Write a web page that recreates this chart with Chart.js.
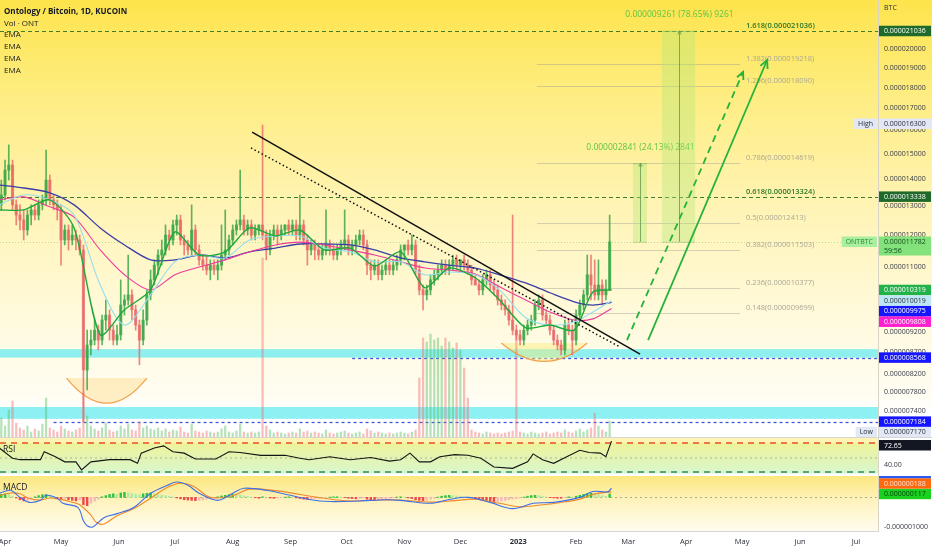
<!DOCTYPE html>
<html>
<head>
<meta charset="utf-8">
<title>Ontology / Bitcoin, 1D, KUCOIN</title>
<script src="https://cdn.jsdelivr.net/npm/chart.js@4.4.1/dist/chart.umd.min.js"></script>
<style>
  html, body { margin: 0; padding: 0; background: #fff; }
  body { width: 932px; height: 550px; position: relative; overflow: hidden; font-family: "Open Sans", "Liberation Sans", sans-serif; }
  canvas { position: absolute; left: 0; }
  #mainChart { top: 0; }
  #rsiChart { top: 438px; }
  #macdChart { top: 476px; }
  .lbl { position: absolute; left: 4px; font-size: 8px; line-height: 12px; color: #131722; white-space: nowrap; }
</style>
</head>
<body>
<canvas id="mainChart" width="932" height="438"></canvas>
<canvas id="rsiChart" width="932" height="38"></canvas>
<canvas id="macdChart" width="932" height="74"></canvas>

<div class="lbl" style="top:5px;font-weight:bold">Ontology / Bitcoin, 1D, KUCOIN</div>
<div class="lbl" style="top:17px">Vol · ONT</div>
<div class="lbl" style="top:28px">EMA</div>
<div class="lbl" style="top:40px">EMA</div>
<div class="lbl" style="top:52px">EMA</div>
<div class="lbl" style="top:64px">EMA</div>
<div class="lbl" style="top:2px;left:884px;font-size:7px;color:#2a2e39">BTC</div>
<div class="lbl" style="top:443px;left:3px;font-size:8.5px">RSI</div>
<div class="lbl" style="top:481px;left:3px;font-size:8.5px">MACD</div>

<script>
// prices are stored in units of 1e-9 BTC, days are counted from 1 Apr 2022
const UNIT = 1e-9;

// x axis
const dayMin = -2.7, dayMax = 467.8;
const monthDays = [0, 30, 61, 91, 122, 153, 183, 214, 244, 275, 306, 334, 365, 395, 426, 456];
const monthLabels = ['Apr', 'May', 'Jun', 'Jul', 'Aug', 'Sep', 'Oct', 'Nov', 'Dec', '2023', 'Feb', 'Mar', 'Apr', 'May', 'Jun', 'Jul'];

// price axis
const priceMin = 6868, priceMax = 22908;
const priceTicks = [20000, 19000, 18000, 17000, 16000, 15000, 14000, 13000, 12000, 11000, 10000, 9600, 9200, 8700, 8200, 7800, 7400];

// candles (one candle every 2 days, first at day -4)
const candleStartDay = -4, candleStepDays = 2;
const opens = [12860,13040,13400,14350,14550,13040,12680,12510,12170,12680,12860,12680,13040,13220,13960,13220,13040,12860,11840,12170,
  11840,12000,11840,11520,8280,8870,8990,9240,8990,9500,9630,9240,8990,9120,9900,10040,10180,9770,9370,8990,
  9500,10180,10610,11050,11360,11520,12000,11840,12340,12510,11840,11680,11520,12170,11520,11210,11050,10900,11050,10900,
  11050,11360,11520,11840,12170,12340,12510,12170,12340,12000,12170,12340,12000,11520,12000,12170,12000,12170,12340,12170,
  12340,12000,12340,11840,11520,11680,11520,11360,11520,11680,11520,11360,11520,11680,11840,11520,11680,11840,12000,11680,
  11050,10900,11050,10760,10900,11050,10900,11050,11210,11520,11680,11520,11680,10900,10320,10180,10320,10610,10760,10900,
  11050,10900,11050,11210,11050,11210,11050,10900,10610,10460,10320,10610,10760,10460,10320,10040,9900,9770,9500,9240,
  9120,8990,9240,9370,9500,9900,10040,9630,9500,9240,8990,8870,8750,9370,9240,8990,9630,9900,10180,10760,
  10460,10180,10460,10180,10320];
const highs = [13400,13960,14750,15380,14750,13220,13040,12860,12860,13040,13040,13220,13400,15160,14160,13400,13220,13040,12340,12340,
  12340,12170,12000,11680,9240,9240,9500,9370,9630,10040,9770,9370,9370,10610,10180,11360,10320,9900,9500,9770,
  10320,10900,11210,11520,11840,12340,12170,12510,12680,12680,12000,11840,13040,12340,11680,11360,11360,11210,11210,11210,
  12340,12860,12000,12340,12510,14350,12680,12510,12510,12340,12340,16240,12170,12170,12340,12340,12340,12340,12510,12510,
  12510,13400,12510,12000,11840,11840,11680,11680,12860,11840,11680,11680,11840,12860,12000,11840,12000,12170,12170,11840,
  11210,11210,11210,11050,11210,11210,11210,11360,11680,11680,11840,12000,11840,11050,10460,10460,10760,10900,11050,11210,
  11210,11210,11360,11360,11210,11360,11210,11050,10760,10610,10760,10900,10900,10610,10460,10180,10040,9900,12680,9370,
  9240,9370,9500,9630,10040,10180,10180,9770,9630,9370,9120,8990,9500,9500,9370,9770,10040,10320,11360,11360,
  11210,11210,10610,10610,12680];
const lows = [12680,12860,13220,13960,12860,12340,12170,11840,12000,12340,12510,12510,12860,13040,13040,12860,12510,11050,11680,11520,
  11680,11520,11360,7170,7840,8630,8870,8750,8870,9240,8990,8870,8870,8990,9630,9900,9500,9240,8400,8870,
  9370,10040,10460,10760,11050,11360,11520,11680,12000,11680,11360,11360,11360,11360,11050,10900,10760,10610,10760,10610,
  10900,11210,11360,11680,12000,12170,12000,12000,11840,11840,12000,11840,11210,11360,11840,11680,11840,12000,12000,12000,
  11840,11840,11680,11050,11360,11210,11210,11210,11360,11360,11210,11210,11360,11520,11360,11360,11520,11680,11520,10760,
  10610,10760,10610,10610,10760,10760,10760,10900,11050,11210,11360,11360,10760,10180,9770,10040,10180,10460,10610,10760,
  10760,10760,10900,10900,10900,10900,10760,10460,10460,10180,10180,10460,10320,10180,9900,9770,9630,9370,9120,8990,
  8870,8870,9120,9240,9370,9770,9500,9370,9120,8870,8750,8630,8630,9120,8630,8870,9500,9770,10040,10040,
  10040,10040,9900,10040,10320];
const closes = [13040,13400,14350,14550,13040,12680,12510,12170,12680,12860,12680,13040,13220,13960,13220,13040,12860,11840,12170,11840,
  12000,11840,11520,8280,8870,8990,9240,8990,9500,9630,9240,8990,9120,9900,10040,10180,9770,9370,8990,9500,
  10180,10610,11050,11360,11520,12000,11840,12340,12510,11840,11680,11520,12170,11520,11210,11050,10900,11050,10900,11050,
  11360,11520,11840,12170,12340,12510,12170,12340,12000,12170,12340,12000,11520,12000,12170,12000,12170,12340,12170,12340,
  12000,12340,11840,11520,11680,11520,11360,11520,11680,11520,11360,11520,11680,11840,11520,11680,11840,12000,11680,11050,
  10900,11050,10760,10900,11050,10900,11050,11210,11520,11680,11520,11680,10900,10320,10180,10320,10610,10760,10900,11050,
  10900,11050,11210,11050,11210,11050,10900,10610,10460,10320,10610,10760,10460,10320,10040,9900,9770,9500,9240,9120,
  8990,9240,9370,9500,9900,10040,9630,9500,9240,8990,8870,8750,9370,9240,8990,9630,9900,10180,10760,10460,
  10180,10460,10180,10320,11782];
const volumes = [8,20,12,28,37,15,10,8,12,6, 9,7,14,40,10,8,6,12,9,7, 6,8,10,45,22,12,9,7,10,15,
  8,6,7,12,9,14,8,7,16,10, 12,9,8,10,7,9,6,8,7,11, 6,5,14,7,6,5,7,6,5,6,
  9,12,6,5,7,14,6,5,6,5, 6,180,12,8,5,6,5,4,5,6, 5,9,6,7,5,6,5,4,8,5,
  4,5,6,7,5,4,5,6,4,9, 7,5,6,5,4,5,4,5,6,5, 4,6,8,60,100,96,104,98,100,92,
  100,96,90,95,88,70,40,8,6,5, 4,6,5,4,5,4,5,6,7,105, 6,5,4,6,5,4,5,6,4,5,
  6,5,8,6,5,7,9,6,8,10, 25,12,8,6,17];

// EMA lines, read at these days
const emaDays = [-3, 10, 24, 37, 51, 64, 78, 91, 104, 118, 131, 145, 158, 171, 185, 198, 212, 225, 238, 252, 265, 279, 292, 305, 315, 325];
const emaGreen = [12860,12860,13220,12240,9120,9770,10320,12100,11360,11460,12240,11970,12170,11520,11580,11020,11460,10380,10960,10670,10040,9300,9370,9240,10260,10319];
const emaCyan = [13040,13400,13220,12680,10460,9370,10180,11150,11360,11270,11840,11970,11970,11580,11460,11150,11150,10760,10840,10760,10320,9560,9370,9450,9710,10019];
const emaPink = [13220,13330,12970,12610,11520,10760,10320,10760,10990,11210,11460,11680,11770,11680,11520,11360,11150,10960,10900,10780,10410,10040,9710,9500,9530,9808];
const emaBlue = [13770,13660,13480,13040,12240,11680,11210,11210,11360,11270,11460,11580,11710,11710,11680,11520,11270,11150,11050,10960,10760,10520,10240,9990,9900,9975];

// fibonacci levels and other drawings
const fibRatios = [0.148, 0.236, 0.382, 0.5, 0.618, 0.786, 1.296, 1.382, 1.618];
const fibPrices = [9699, 10377, 11503, 12413, 13324, 14619, 18090, 19218, 21036];
const keyLevels = [21036, 13338];
const supportZones = [[8568, 8770], [7240, 7480]];
const supportLines = [[8568, 186], [7184, 26]];
const measureBase = 11782;
const measureDeltas = [2841, 9261];
const measurePct = [24.13, 78.65];

// RSI
const rsiDays = [-3,4,8,19,21,27,32,38,41,46,56,67,71,73,80,85,90,96,102,113,120,126,137,150,158,163,174,185,196,206,212,217,222,228,233,241,248,255,262,272,280,283,288,294,301,308,313,319,322,325];
const rsiValues = [63,49,47,47,58,51,44,44,33,44,47,47,42,56,63,66,58,56,48,48,58,57,53,53,49,47,51,47,50,45,47,56,44,44,51,54,53,49,37,35,44,55,47,42,51,60,57,56,51,72.65];
const rsiLevels = [70, 50, 30];

// MACD
const macdDays = [-3,3,8,13,19,22,28,31,39,42,44,47,53,60,69,78,87,92,98,104,114,122,128,140,153,163,174,190,204,212,228,238,248,260,272,283,294,308,315,323,325];
const macdLine = [140,240,0,-170,-100,70,-30,-200,-340,-790,-960,-1000,-690,-550,-340,140,410,520,410,140,-100,140,310,240,70,-70,-140,-120,-80,-100,-200,-70,0,-170,-380,-200,-170,0,200,190,310];
const signalDays = [-3,3,8,13,19,24,29,35,40,46,49,53,60,69,78,87,94,101,110,122,131,146,158,170,185,201,212,228,241,252,265,276,287,297,308,316,325];
const signalLine = [60,150,120,-40,-90,-20,-60,-150,-250,-600,-850,-900,-620,-380,-30,340,480,380,0,60,280,220,100,-20,-120,-90,-90,-160,-110,-60,-200,-320,-260,-180,-60,120,188];
const macdHist = [60,100,120,100,40,-20, -80,-120,-100,-60, 20,60,90,100,70,30, -30,-60,-50,-80, -100,-120,-90,
  -250,-280,-200,-120,-60, 20,60,100,120,110, 150,170,160,130,110,90,120,140, 150,120,100,80,60,40,
  20,-20,-50,-80,-90,-100, -110,-100,-90,-60,-40,-20, 20,50,70,90,100,90,70,50,
  30,10,-10,-30,20,10,-20,-30,-20, -10,10,20,10,-20,-40,-60,-70,-60,-40,-30,-20,-10,10,20,
  20,10,-10,-30,-40,-50,-40,-20,-60,-90,-100,-90,-70,-50,-30, -10,10,20,10,-20,-40,-80,-100,-110,-90,
  -60,-30,10,40,60,70,60,50,40,20,10, -10,-40,-60,-80,-100,-130,-150,-140,-120,-100,-80,-60,
  -40,-20,10,40,60,70,60,40, 20,-10,-20,-30,-30,-10,20,10, 40,70,100,130,140,120,90,60,40,117];

const fmt = v => (v * UNIT).toFixed(9);
const FONT = '"Open Sans", "Liberation Sans", sans-serif';
const RIGHT_W = 54;

document.addEventListener('DOMContentLoaded', () => {
    const candleDays = closes.map((_, i) => candleStartDay + i * candleStepDays);
    const upCol = 'rgba(62,168,72,0.85)', downCol = 'rgba(232,104,104,0.8)';
    const candleCol = closes.map((c, i) => c >= opens[i] ? upCol : downCol);
    const volCol = closes.map((c, i) => c >= opens[i] ? 'rgba(90,190,100,0.45)' : 'rgba(240,110,110,0.45)');
    const pts = (days, vals) => days.map((d, i) => ({ x: d, y: vals[i] }));

    // --- helpers ---
    // fixed axis width and no label overflow padding, so all panes share the same plot area
    const fixWidth = s => { s.width = RIGHT_W; s.paddingTop = 0; s.paddingBottom = 0; };
    const fixHeight = s => { s.height = 19; s.paddingLeft = 0; s.paddingRight = 0; };
    const xScaleHidden = { type: 'linear', min: dayMin, max: dayMax, display: false, offset: false, grid: { display: false } };

    const arrowHead = (ctx, x1, y1, x2, y2, len) => {
        const a = Math.atan2(y2 - y1, x2 - x1);
        ctx.beginPath();
        ctx.moveTo(x2 - len * Math.cos(a - 0.45), y2 - len * Math.sin(a - 0.45));
        ctx.lineTo(x2, y2);
        ctx.lineTo(x2 - len * Math.cos(a + 0.45), y2 - len * Math.sin(a + 0.45));
        ctx.stroke();
    };

    // price tags on the right axis, pushed apart so they do not overlap
    const drawTags = (chart, tags, dir, scaleId) => {
        const ctx = chart.ctx, x0 = chart.chartArea.right + 1, w = chart.width - x0 - 1;
        const sc = chart.scales[scaleId];
        const list = tags.map(t => ({ ...t, y: sc.getPixelForValue(t.v), h: t.sub ? 19 : 10.5 }))
            .sort((a, b) => dir > 0 ? a.y - b.y : b.y - a.y);
        let prev = null;
        list.forEach(t => {
            let top = t.y - 5.25;
            if (dir > 0) top = Math.max(top, chart.chartArea.top + 2);
            if (prev) {
                if (dir > 0 && top < prev.bottom) top = prev.bottom;
                if (dir < 0 && top + t.h > prev.top) top = prev.top - t.h;
            }
            t.top = top; t.bottom = top + t.h;
            prev = t;
            ctx.fillStyle = t.bg;
            ctx.fillRect(x0, top, w, t.h);
            ctx.fillStyle = t.fg;
            ctx.font = '7px ' + FONT;
            ctx.textBaseline = 'middle';
            ctx.textAlign = 'left';
            ctx.fillText(t.txt || fmt(t.v), x0 + 5, top + 5.5);
            if (t.sub) ctx.fillText(t.sub, x0 + 5, top + 14);
            if (t.side) {
                const sw = ctx.measureText(t.side).width + 8;
                ctx.fillStyle = t.sideBg || t.bg;
                ctx.fillRect(x0 - 2 - sw, top, sw, 10.5);
                ctx.fillStyle = t.sideFg || t.fg;
                ctx.fillText(t.side, x0 - 2 - sw + 4, top + 5.5);
            }
        });
    };

    // --- MAIN PANE DRAWINGS ---
    const mainDecor = {
        id: 'mainDecor',
        beforeDraw(chart) {
            const { ctx, chartArea: a, scales: { x, y } } = chart;
            const g = ctx.createLinearGradient(0, 0, 0, chart.height);
            g.addColorStop(0, '#fde44c');
            g.addColorStop(0.22, '#feed82');
            g.addColorStop(0.48, '#fff4b6');
            g.addColorStop(0.72, '#fffadc');
            g.addColorStop(0.9, '#fffdf2');
            g.addColorStop(0.95, '#ffffff');
            g.addColorStop(1, '#ffffff');
            ctx.fillStyle = g;
            ctx.fillRect(0, 0, chart.width, chart.height);

            supportZones.forEach(([lo, hi]) => {
                const y1 = y.getPixelForValue(hi), y2 = y.getPixelForValue(lo);
                ctx.fillStyle = 'rgba(112,236,240,0.8)';
                ctx.fillRect(a.left, y1, a.right - a.left, y2 - y1);
            });

            ctx.save();
            ctx.lineWidth = 1.3;
            ctx.strokeStyle = '#3d58d8';
            ctx.setLineDash([3, 3]);
            supportLines.forEach(([p, d]) => {
                const yy = Math.round(y.getPixelForValue(p)) + 0.5;
                ctx.beginPath(); ctx.moveTo(x.getPixelForValue(d), yy); ctx.lineTo(a.right, yy); ctx.stroke();
            });
            ctx.strokeStyle = '#3f7d2e';
            ctx.lineWidth = 1.2;
            ctx.setLineDash([4, 3]);
            keyLevels.forEach(p => {
                const yy = Math.round(y.getPixelForValue(p)) + 0.5;
                ctx.beginPath(); ctx.moveTo(a.left, yy); ctx.lineTo(a.right, yy); ctx.stroke();
            });
            // last price line
            ctx.strokeStyle = 'rgba(70,170,70,0.35)';
            ctx.lineWidth = 1;
            ctx.setLineDash([1, 2]);
            const yl = Math.round(y.getPixelForValue(closes[closes.length - 1])) + 0.5;
            ctx.beginPath(); ctx.moveTo(a.left, yl); ctx.lineTo(a.right, yl); ctx.stroke();
            ctx.setLineDash([]);

            // fibonacci lines and labels
            const fx1 = x.getPixelForValue(285), fx2 = x.getPixelForValue(394), fl = x.getPixelForValue(397);
            fibRatios.forEach((r, i) => {
                const yy = Math.round(y.getPixelForValue(fibPrices[i])) + 0.5;
                const key = r === 0.618 || r === 1.618;
                if (!key) {
                    ctx.strokeStyle = 'rgba(160,160,150,0.45)';
                    ctx.lineWidth = 1;
                    ctx.beginPath(); ctx.moveTo(fx1, yy); ctx.lineTo(fx2, yy); ctx.stroke();
                }
                ctx.font = (key ? '600 ' : '') + '7.5px ' + FONT;
                ctx.fillStyle = key ? '#2f7a2a' : '#aaa796';
                ctx.textBaseline = 'middle';
                ctx.textAlign = 'left';
                ctx.fillText(`${r}(${fmt(fibPrices[i])})`, fl, yy - 6);
            });
            ctx.restore();
        },
        beforeDatasetsDraw(chart) {
            const { ctx, scales: { x, y } } = chart;
            // rounded bottoms
            const cups = [[33, 76, 8100, 7560, 'rgba(255,208,110,0.35)'], [266, 312, 8920, 8480, 'rgba(250,235,120,0.45)']];
            cups.forEach(([d1, d2, pTop, pBot, fill]) => {
                const x1 = x.getPixelForValue(d1), x2 = x.getPixelForValue(d2);
                const yt = y.getPixelForValue(pTop), yb = y.getPixelForValue(pBot);
                ctx.beginPath();
                ctx.moveTo(x1, yt);
                ctx.quadraticCurveTo((x1 + x2) / 2, 2 * yb - yt, x2, yt);
                ctx.closePath();
                ctx.fillStyle = fill;
                ctx.fill();
                ctx.beginPath();
                ctx.moveTo(x1, yt);
                ctx.quadraticCurveTo((x1 + x2) / 2, 2 * yb - yt, x2, yt);
                ctx.strokeStyle = '#f0a24c';
                ctx.lineWidth = 1.2;
                ctx.stroke();
            });
            // projection boxes
            const boxes = [[336.5, 344], [352, 369.8]];
            boxes.forEach(([d1, d2], i) => {
                const x1 = x.getPixelForValue(d1), x2 = x.getPixelForValue(d2);
                const yb = y.getPixelForValue(measureBase), yt = y.getPixelForValue(measureBase + measureDeltas[i]);
                ctx.fillStyle = 'rgba(180,232,120,0.38)';
                ctx.fillRect(x1, yt, x2 - x1, yb - yt);
                ctx.strokeStyle = 'rgba(110,170,80,0.45)';
                ctx.lineWidth = 1;
                ctx.beginPath();
                ctx.moveTo(x1, yt + 0.5); ctx.lineTo(x2, yt + 0.5);
                ctx.moveTo(x1, yb + 0.5); ctx.lineTo(x2, yb + 0.5);
                ctx.stroke();
                const xm = Math.round((x1 + x2) / 2) + 0.5;
                ctx.strokeStyle = 'rgba(90,150,70,0.75)';
                ctx.beginPath(); ctx.moveTo(xm, yb); ctx.lineTo(xm, yt); ctx.stroke();
                arrowHead(ctx, xm, yb, xm, yt, 4);
                ctx.font = '8.5px ' + FONT;
                ctx.fillStyle = '#5cc445';
                ctx.textAlign = 'center';
                ctx.textBaseline = 'middle';
                ctx.fillText(`${fmt(measureDeltas[i])} (${measurePct[i]}%) ${measureDeltas[i]}`, xm, yt - 16);
            });
        },
        afterDatasetsDraw(chart) {
            const { ctx, chartArea: a, scales: { x, y } } = chart;
            ctx.save();
            ctx.beginPath(); ctx.rect(a.left, a.top, a.right - a.left, a.bottom - a.top); ctx.clip();
            const P = (d, p) => [x.getPixelForValue(d), y.getPixelForValue(p)];
            // falling trendlines
            ctx.strokeStyle = '#111';
            ctx.lineWidth = 1.5;
            let [ax, ay] = P(132.4, 15930), [bx, by] = P(340.3, 8650);
            ctx.beginPath(); ctx.moveTo(ax, ay); ctx.lineTo(bx, by); ctx.stroke();
            ctx.setLineDash([1.5, 2.5]);
            [ax, ay] = P(131.8, 15250); [bx, by] = P(329.6, 8820);
            ctx.beginPath(); ctx.moveTo(ax, ay); ctx.lineTo(bx, by); ctx.stroke();
            // target arrows
            ctx.strokeStyle = '#24b33c';
            ctx.lineWidth = 1.8;
            ctx.setLineDash([7, 5]);
            [ax, ay] = P(333.3, 8990); [bx, by] = P(395.5, 18794);
            ctx.beginPath(); ctx.moveTo(ax, ay); ctx.lineTo(bx, by); ctx.stroke();
            ctx.setLineDash([]);
            arrowHead(ctx, ax, ay, bx, by, 8);
            [ax, ay] = P(344.6, 8990); [bx, by] = P(408.4, 19423);
            ctx.beginPath(); ctx.moveTo(ax, ay); ctx.lineTo(bx, by); ctx.stroke();
            arrowHead(ctx, ax, ay, bx, by, 9);
            ctx.restore();
        },
        afterDraw(chart) {
            const ctx = chart.ctx;
            drawTags(chart, [
                { v: keyLevels[0], bg: '#1f6a2a', fg: '#fff' },
                { v: 16300, bg: '#e2e8f5', fg: '#2a2e39', side: 'High' },
                { v: keyLevels[1], bg: '#1f6a2a', fg: '#fff' },
                { v: closes[closes.length - 1], bg: '#84e27c', fg: '#0f4a1a', sub: '59:56', side: 'ONTBTC', sideBg: '#aaee9f', sideFg: '#2b8a2b' },
                { v: emaGreen[emaGreen.length - 1], bg: '#22b24a', fg: '#fff' },
                { v: emaCyan[emaCyan.length - 1], bg: '#bde6f6', fg: '#2a2e39' },
                { v: emaBlue[emaBlue.length - 1], bg: '#1515ff', fg: '#fff' },
                { v: emaPink[emaPink.length - 1], bg: '#ff1fd0', fg: '#fff' },
                { v: supportLines[0][0], bg: '#1515ff', fg: '#fff' },
                { v: supportLines[1][0], bg: '#1515ff', fg: '#fff' },
                { v: 7170, bg: '#e2e8f5', fg: '#2a2e39', side: 'Low' }
            ], 1, 'y');
            ctx.fillStyle = '#d6d6d0';
            ctx.fillRect(0, chart.height - 1, chart.width, 1);
        }
    };

    new Chart(document.getElementById('mainChart'), {
        type: 'bar',
        data: {
            datasets: [
                { type: 'line', data: pts(emaDays, emaGreen), borderColor: '#1fa83a', borderWidth: 1.4, pointRadius: 0, tension: 0.25, order: 1 },
                { type: 'line', data: pts(emaDays, emaCyan), borderColor: '#94def0', borderWidth: 1.1, pointRadius: 0, tension: 0.3, order: 2 },
                { type: 'line', data: pts(emaDays, emaPink), borderColor: '#ee3c9c', borderWidth: 1.1, pointRadius: 0, tension: 0.3, order: 2 },
                { type: 'line', data: pts(emaDays, emaBlue), borderColor: '#3a3ea6', borderWidth: 1.3, pointRadius: 0, tension: 0.3, order: 2 },
                { data: candleDays.map((d, i) => ({ x: d, y: [opens[i], closes[i]] })), backgroundColor: candleCol, barThickness: 2.4, grouped: false, order: 3 },
                { data: candleDays.map((d, i) => ({ x: d, y: [lows[i], highs[i]] })), backgroundColor: candleCol, barThickness: 1, grouped: false, order: 4 },
                { data: candleDays.map((d, i) => ({ x: d, y: volumes[i] })), backgroundColor: volCol, barThickness: 1.6, grouped: false, yAxisID: 'vol', order: 5 }
            ]
        },
        options: {
            responsive: false,
            animation: false,
            events: [],
            layout: { padding: 0 },
            plugins: { legend: { display: false }, tooltip: { enabled: false } },
            scales: {
                x: xScaleHidden,
                y: {
                    type: 'logarithmic', position: 'right', min: priceMin, max: priceMax,
                    grid: { display: false, drawTicks: false },
                    border: { display: true, color: '#d8d5c6' },
                    afterBuildTicks: s => { s.ticks = priceTicks.map(v => ({ value: v })); },
                    afterFit: fixWidth,
                    ticks: { padding: 6, color: '#363a45', font: { family: FONT, size: 7 }, callback: v => fmt(v), autoSkip: false }
                },
                vol: { display: false, min: 0, max: 438 }
            }
        },
        plugins: [mainDecor]
    });

    // --- RSI PANE ---
    const rsiDecor = {
        id: 'rsiDecor',
        beforeDraw(chart) {
            const { ctx, chartArea: a, scales: { y } } = chart;
            const y70 = y.getPixelForValue(rsiLevels[0]), y50 = y.getPixelForValue(rsiLevels[1]), y30 = y.getPixelForValue(rsiLevels[2]);
            ctx.fillStyle = '#fdf3b2';
            ctx.fillRect(a.left, a.top, a.right - a.left, y70 - a.top);
            const g = ctx.createLinearGradient(0, y70, 0, y30);
            g.addColorStop(0, '#eef39a');
            g.addColorStop(1, '#d9f6cb');
            ctx.fillStyle = g;
            ctx.fillRect(a.left, y70, a.right - a.left, y30 - y70 + 1.5);
            ctx.save();
            ctx.lineWidth = 1.6;
            ctx.setLineDash([6, 5]);
            ctx.strokeStyle = '#e8502a';
            ctx.beginPath(); ctx.moveTo(a.left, y70); ctx.lineTo(a.right, y70); ctx.stroke();
            ctx.strokeStyle = '#2f8a66';
            ctx.beginPath(); ctx.moveTo(a.left, y30); ctx.lineTo(a.right, y30); ctx.stroke();
            ctx.lineWidth = 1;
            ctx.setLineDash([2, 3]);
            ctx.strokeStyle = 'rgba(140,140,120,0.6)';
            ctx.beginPath(); ctx.moveTo(a.left, y50 + 0.5); ctx.lineTo(a.right, y50 + 0.5); ctx.stroke();
            ctx.restore();
        },
        afterDraw(chart) {
            drawTags(chart, [{ v: rsiValues[rsiValues.length - 1], txt: rsiValues[rsiValues.length - 1].toFixed(2), bg: '#131722', fg: '#fff' }], 1, 'y');
        }
    };

    new Chart(document.getElementById('rsiChart'), {
        type: 'line',
        data: { datasets: [{ data: pts(rsiDays, rsiValues), borderColor: '#141414', borderWidth: 1.1, pointRadius: 0, tension: 0 }] },
        options: {
            responsive: false,
            animation: false,
            events: [],
            layout: { padding: 0 },
            plugins: { legend: { display: false }, tooltip: { enabled: false } },
            scales: {
                x: xScaleHidden,
                y: {
                    position: 'right', min: 24.48, max: 76.9,
                    grid: { display: false, drawTicks: false },
                    border: { display: true, color: '#d8d5c6' },
                    afterBuildTicks: s => { s.ticks = [{ value: 40 }]; },
                    afterFit: fixWidth,
                    ticks: { padding: 6, color: '#363a45', font: { family: FONT, size: 7 }, callback: v => v.toFixed(2) }
                }
            }
        },
        plugins: [rsiDecor]
    });

    // --- MACD PANE ---
    const histCol = macdHist.map((v, i) => {
        const p = i ? macdHist[i - 1] : 0;
        if (v >= 0) return v >= p ? '#2cc43e' : '#aeeaa4';
        return v <= p ? '#f04848' : '#f7b8b8';
    });

    const macdDecor = {
        id: 'macdDecor',
        beforeDraw(chart) {
            const { ctx, chartArea: a, scales: { y } } = chart;
            const g = ctx.createLinearGradient(0, a.top, 0, a.bottom);
            g.addColorStop(0, '#fde77e');
            g.addColorStop(0.45, '#fef3bd');
            g.addColorStop(1, '#fffcef');
            ctx.fillStyle = g;
            ctx.fillRect(a.left, a.top, a.right - a.left, a.bottom - a.top);
            const y0 = Math.round(y.getPixelForValue(0)) + 0.5;
            ctx.save();
            ctx.setLineDash([2, 3]);
            ctx.strokeStyle = 'rgba(140,140,120,0.7)';
            ctx.lineWidth = 1;
            ctx.beginPath(); ctx.moveTo(a.left, y0); ctx.lineTo(a.right, y0); ctx.stroke();
            ctx.restore();
        },
        afterDraw(chart) {
            drawTags(chart, [
                { v: macdLine[macdLine.length - 1], bg: '#2f5cf0', fg: '#fff' },
                { v: signalLine[signalLine.length - 1], bg: '#ff6a10', fg: '#ffe3d6' },
                { v: macdHist[macdHist.length - 1], bg: '#19d11f', fg: '#0b3b0b' }
            ], -1, 'y');
        }
    };

    new Chart(document.getElementById('macdChart'), {
        type: 'bar',
        data: {
            datasets: [
                { type: 'line', data: pts(macdDays, macdLine), borderColor: '#3d6fe8', borderWidth: 1.1, pointRadius: 0, tension: 0.35, order: 1 },
                { type: 'line', data: pts(signalDays, signalLine), borderColor: '#f08a2a', borderWidth: 1.1, pointRadius: 0, tension: 0.35, order: 2 },
                { data: candleDays.map((d, i) => ({ x: d, y: macdHist[i] })), backgroundColor: histCol, barThickness: 1.8, grouped: false, order: 3 }
            ]
        },
        options: {
            responsive: false,
            animation: false,
            events: [],
            layout: { padding: 0 },
            plugins: { legend: { display: false }, tooltip: { enabled: false } },
            scales: {
                x: {
                    type: 'linear', min: dayMin, max: dayMax, offset: false,
                    grid: { display: false, drawTicks: false },
                    border: { display: true, color: '#d6d6d6' },
                    afterBuildTicks: s => { s.ticks = monthDays.map(v => ({ value: v })); },
                    afterFit: fixHeight,
                    ticks: {
                        padding: 6, autoSkip: false, maxRotation: 0, color: '#2a2e39',
                        font: c => ({ family: FONT, size: 7.5, weight: c.tick && c.tick.value === 275 ? 'bold' : 'normal' }),
                        callback: v => monthLabels[monthDays.indexOf(v)]
                    }
                },
                y: {
                    position: 'right', min: -1138, max: 724,
                    grid: { display: false, drawTicks: false },
                    border: { display: true, color: '#d8d5c6' },
                    afterBuildTicks: s => { s.ticks = [{ value: -1000 }]; },
                    afterFit: fixWidth,
                    ticks: { padding: 6, color: '#363a45', font: { family: FONT, size: 7 }, callback: v => fmt(v) }
                }
            }
        },
        plugins: [macdDecor]
    });
});
</script>
</body>
</html>
